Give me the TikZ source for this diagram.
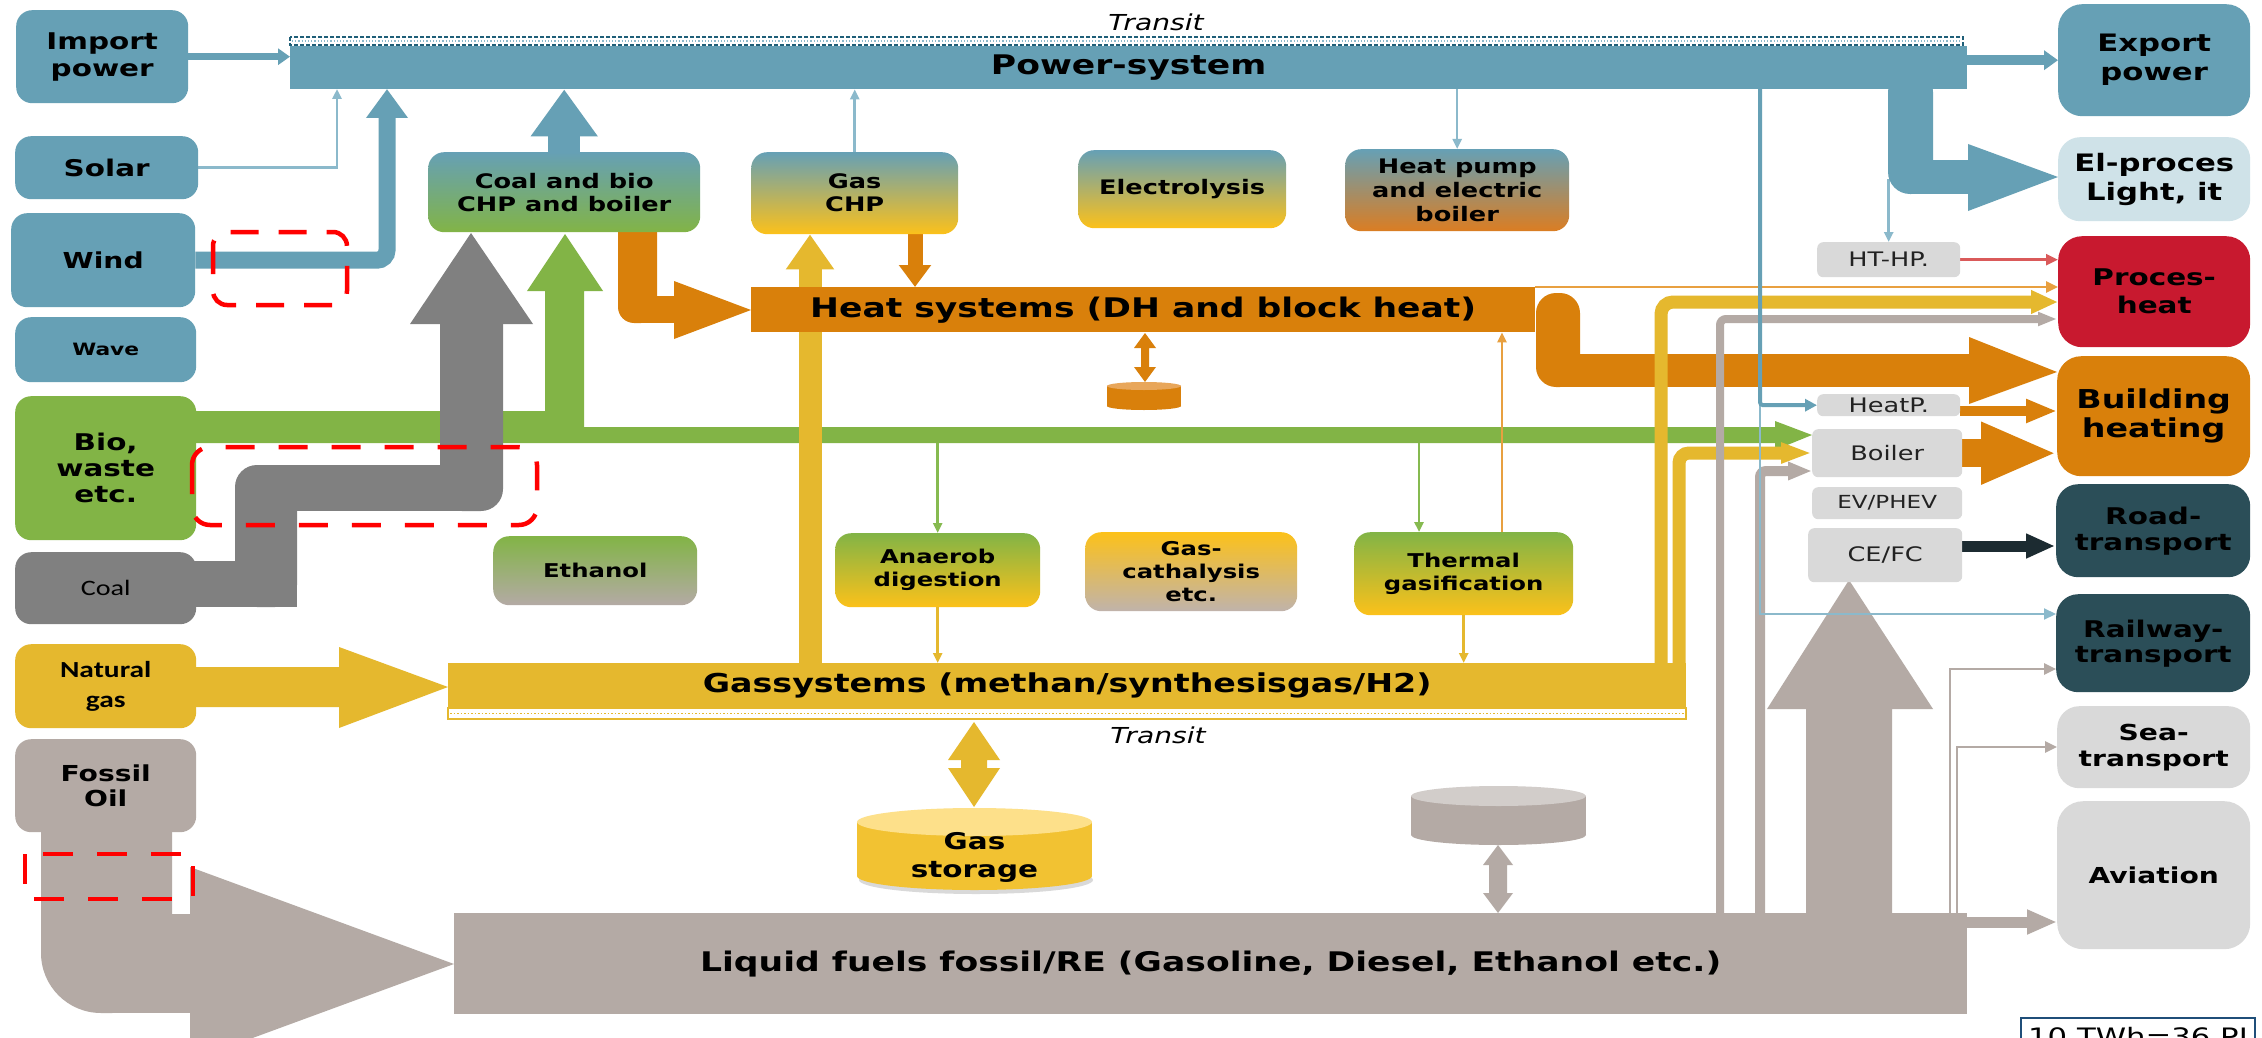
\documentclass[tikz,border=0pt]{standalone}
\usepackage{fontspec}
\setmainfont{DejaVu Sans}[FakeStretch=1.28]
\newfontfamily\carl{Carlito}[FakeStretch=1.28]
\usetikzlibrary{arrows.meta}
\pgfdeclarelayer{back}
\pgfdeclarelayer{bg}
\pgfdeclarelayer{fg}
\pgfsetlayers{back,bg,main,fg}
\newcommand\fz[2]{\fontsize{#1}{#2}\selectfont}
\definecolor{pw}{HTML}{66A0B5}
\definecolor{pwl}{HTML}{CFE2E8}
\definecolor{gr}{HTML}{82B446}
\definecolor{cg}{HTML}{808080}
\definecolor{ye}{HTML}{E5B82E}
\definecolor{yb}{HTML}{FCC11A}
\definecolor{oi}{HTML}{B4AAA5}
\definecolor{oil2}{HTML}{D2CDCA}
\definecolor{or}{HTML}{D9800B}
\definecolor{orl}{HTML}{E8A65A}
\definecolor{hpo}{HTML}{DB7D22}
\definecolor{gcb}{HTML}{C0B3AB}
\definecolor{rd}{HTML}{C8192F}
\definecolor{rdl}{HTML}{DA5A5A}
\definecolor{dt}{HTML}{2B4E58}
\definecolor{dk}{HTML}{1C2B31}
\definecolor{lg}{HTML}{D9D9D9}
\definecolor{gs}{HTML}{F2C232}
\definecolor{gsl}{HTML}{FDE08A}
\definecolor{tb}{HTML}{8BB9CB}
\definecolor{tor}{HTML}{E8A040}
\definecolor{tg}{HTML}{86BA50}
\definecolor{dkb}{HTML}{1F5F78}
\definecolor{sbx}{HTML}{1F4E79}
\definecolor{txg}{HTML}{222222}
\definecolor{rr}{HTML}{FF0000}
\begin{document}
\begin{tikzpicture}[x=1pt,y=-1pt,
  box/.style={anchor=north west, inner sep=0pt, align=center, rounded corners=16pt},
  bar/.style={anchor=north west, inner sep=0pt, font=\bfseries\fz{27}{32}},
  sbox/.style={anchor=north west, inner sep=0pt, align=center, rounded corners=6pt, fill=lg, text=txg, font=\fz{20}{24}},
  tarr/.style={line width=2.5pt, -{Triangle[length=10pt,width=9pt]}},
  redbox/.style={rr, line width=4.5pt}
]
\useasboundingbox (0,0) rectangle (2262,1038);
\begin{pgfonlayer}{back}
\fill[white] (0,0) rectangle (2262,1038);
\end{pgfonlayer}

% ---------- left boxes
\node[box, fill=pw, minimum width=172pt, minimum height=93pt, font=\bfseries\fz{23}{27}] (imp) at (16,10) {Import\\power};
\node[box, fill=pw, minimum width=183pt, minimum height=63pt, font=\bfseries\fz{23}{27}] (sol) at (15,136) {Solar};
\node[box, fill=pw, minimum width=184pt, minimum height=94pt, font=\bfseries\fz{22}{26}] (wind) at (11,213) {Wind};
\node[box, fill=pw, minimum width=181pt, minimum height=65pt, font=\bfseries\fz{17}{20}] (wave) at (15,317) {Wave};
\node[box, fill=gr, minimum width=181pt, minimum height=144pt, font=\bfseries\fz{23}{26}] (bio) at (15,396) {Bio,\\waste\\etc.};
\node[box, fill=cg, minimum width=181pt, minimum height=72pt, font=\carl\fz{22}{26}] (coal) at (15,552) {Coal};
\node[box, fill=ye, minimum width=181pt, minimum height=84pt, font=\carl\bfseries\fz{23}{30}] (ng) at (15,644) {Natural\\gas};
\node[box, fill=oi, minimum width=181pt, minimum height=93pt, font=\bfseries\fz{22}{25}] (oil) at (15,739) {Fossil\\Oil};

% ---------- bars
\node[bar, fill=pw, minimum width=1677pt, minimum height=43pt] (power) at (290,46) {Power-system};
\node[bar, fill=or, minimum width=784pt, minimum height=45pt] (heat) at (751,287) {Heat systems (DH and block heat)};
\node[bar, fill=ye, minimum width=1238pt, minimum height=45pt, font=\bfseries\fz{26}{30}] (gas) at (448,663) {Gassystems (methan/synthesisgas/H2)};
\node[bar, fill=oi, minimum width=1513pt, minimum height=101pt] (liq) at (454,913) {Liquid fuels fossil/RE (Gasoline, Diesel, Ethanol etc.)};

% ---------- middle boxes
\node[box, top color=pw, bottom color=gr, minimum width=272pt, minimum height=80pt, font=\bfseries\fz{20}{23}] (chp) at (428,152) {Coal and bio\\CHP and boiler};
\node[box, top color=pw, bottom color=yb, minimum width=207pt, minimum height=82pt, font=\bfseries\fz{20}{23}] (gchp) at (751,152) {Gas\\CHP};
\node[box, top color=pw, bottom color=yb, minimum width=208pt, minimum height=78pt, font=\bfseries\fz{20}{23}] (elec) at (1078,150) {Electrolysis};
\node[box, top color=pw, bottom color=hpo, minimum width=224pt, minimum height=82pt, font=\bfseries\fz{20}{24}] (hp) at (1345,149) {Heat pump\\and electric\\boiler};
\node[box, top color=gr, bottom color=yb, minimum width=205pt, minimum height=74pt, font=\bfseries\fz{19}{23}] (anae) at (835,533) {Anaerob\\digestion};
\node[box, top color=yb, bottom color=gcb, minimum width=212pt, minimum height=79pt, font=\bfseries\fz{19}{23}] (gcat) at (1085,532) {Gas-\\cathalysis\\etc.};
\node[box, top color=gr, bottom color=yb, minimum width=219pt, minimum height=83pt, font=\bfseries\fz{19}{23}] (therm) at (1354,532) {Thermal\\gasification};
\node[box, top color=gr, bottom color=oi, minimum width=204pt, minimum height=69pt, font=\bfseries\fz{19}{23}] (eth) at (493,536) {Ethanol};

% ---------- right boxes
\node[box, rounded corners=24pt, fill=pw, minimum width=192pt, minimum height=112pt, font=\bfseries\fz{24}{29}] (expo) at (2058,4) {Export\\power};
\node[box, rounded corners=22pt, fill=pwl, minimum width=192pt, minimum height=84pt, font=\bfseries\fz{24}{29}] (elp) at (2058,137) {El-proces\\Light, it};
\node[box, rounded corners=24pt, fill=rd, minimum width=192pt, minimum height=111pt, font=\bfseries\fz{23}{28}] (proc) at (2058,236) {Proces-\\heat};
\node[box, rounded corners=24pt, fill=or, minimum width=193pt, minimum height=120pt, font=\bfseries\fz{26}{29}] (bld) at (2057,356) {Building\\heating};
\node[box, rounded corners=22pt, fill=dt, minimum width=194pt, minimum height=93pt, font=\bfseries\fz{23}{26}] (road) at (2056,484) {Road-\\transport};
\node[box, rounded corners=22pt, fill=dt, minimum width=194pt, minimum height=98pt, font=\bfseries\fz{23}{25}] (rail) at (2056,594) {Railway-\\transport};
\node[box, rounded corners=22pt, fill=lg, minimum width=193pt, minimum height=82pt, font=\bfseries\fz{22}{26}] (sea) at (2057,706) {Sea-\\transport};
\node[box, rounded corners=26pt, fill=lg, minimum width=193pt, minimum height=148pt, font=\bfseries\fz{22}{26}] (avi) at (2057,801) {Aviation};

% ---------- small grey boxes
\node[sbox, minimum width=143pt, minimum height=35pt] (htp) at (1817,242) {HT-HP.};
\node[sbox, minimum width=143pt, minimum height=22pt] (heatp) at (1817,394) {HeatP.};
\node[sbox, minimum width=150pt, minimum height=48pt] (boiler) at (1812,429) {Boiler};
\node[sbox, minimum width=150pt, minimum height=32pt, font=\fz{18}{22}] (ev) at (1812,487) {EV/PHEV};
\node[sbox, minimum width=154pt, minimum height=54pt] (cefc) at (1808,528) {CE/FC};

% ---------- helper coordinates
\coordinate (sp) at (337,89);
\coordinate (wp) at (387,89);
\coordinate (gd) at (915,0);
\coordinate (gu) at (810,0);
\coordinate (gb) at (0,443);
\coordinate (tgx) at (1419,0);
\coordinate (tox) at (1502,0);
\coordinate (hpo1) at (1960,411);
\coordinate (hpo2) at (2057,411);
\coordinate (ce1) at (1962,546);
\coordinate (ce2) at (2055,546);
\coordinate (av1) at (1967,922);
\coordinate (av2) at (2057,922);
\coordinate (bl1) at (1760,89);
\coordinate (bl2) at (1760,405);
\coordinate (bl3) at (2056,614);
\coordinate (y1) at (1661,670);
\coordinate (y1e) at (2058,302);
\coordinate (y2) at (1679,670);
\coordinate (y2e) at (1812,453);
\coordinate (g1) at (1720,920);
\coordinate (g1e) at (2057,319);
\coordinate (g2) at (1760,920);
\coordinate (g2e) at (1812,471);
\coordinate (g3) at (1950,913);
\coordinate (g3e) at (2056,669);
\coordinate (g4) at (1957,913);
\coordinate (g4e) at (2057,747);

\begin{pgfonlayer}{bg}
% green flow
\fill[gr] (190,411) -- (545,411) -- (545,291) -- (527,291) -- (565,234) -- (603,291) -- (584,291) -- (584,427) -- (1775,427) -- (1775,421) -- (1812,435) -- (1775,450) -- (1775,443) -- (190,443) -- cycle;
% orange flows
\fill[or, rounded corners=16pt] (618,215) rectangle (657,323);
\fill[or] (640,296) rectangle (675,323);
\fill[or] (674,281) -- (751,310) -- (674,339) -- cycle;
\fill[or, rounded corners=20pt] (1536,293) rectangle (1580,387);
\fill[or] (1560,354) rectangle (1970,387);
\fill[or] (1969,337) -- (2057,372) -- (1969,404) -- cycle;
\draw[or, line width=15pt, -{Triangle[length=22pt,width=31pt]}] (gchp.south -| gd) -- (heat.north -| gd);
\draw[or, line width=10pt, -{Triangle[length=31pt,width=22pt]}] (hpo1) -- (hpo2);
\draw[or, line width=28pt, -{Triangle[length=76pt,width=57pt]}] (boiler.east) -- (boiler.east -| bld.west);
\draw[tor, line width=2.5pt, -{Triangle[length=12pt,width=11pt]}] (heat.north east) -- (heat.north east -| proc.west);
% coal pipe
\fill[cg] (190,561) rectangle (297,607);
\fill[cg, rounded corners=22pt] (235,465) rectangle (297,607);
\fill[cg] (262,465) rectangle (480,511);
\fill[cg, rounded corners=22pt] (440,300) rectangle (503,511);
\fill[cg] (410,324) -- (471,233) -- (533,324) -- cycle;
% natural gas
\fill[ye] (190,667) -- (339,667) -- (339,647) -- (448,687) -- (339,728) -- (339,707) -- (190,707) -- cycle;
% fossil oil
\fill[oi, rounded corners=60pt] (41,745) rectangle (172,1013);
\fill[oi] (100,914) rectangle (191,1013);
\fill[oi] (190,867) -- (454,964) -- (190,1061) -- cycle;
% yellow flows
\draw[ye, line width=23pt, -{Triangle[length=35pt,width=46pt]}] (gas.north -| gu) -- (gchp.south -| gu);
\draw[ye, line width=13pt, rounded corners=12pt, -{Triangle[length=27pt,width=22pt]}] (y1) |- (y1e);
\draw[ye, line width=13pt, rounded corners=10pt, -{Triangle[length=31pt,width=19pt]}] (y2) |- (y2e);
% grey flows
\draw[oi, line width=8pt, rounded corners=6pt, -{Triangle[length=19pt,width=13pt]}] (g1) |- (g1e);
\draw[oi, line width=10pt, rounded corners=6pt, -{Triangle[length=24pt,width=17pt]}] (g2) |- (g2e);
\fill[oi] (1806,920) -- (1806,709) -- (1767,709) -- (1849,580) -- (1933,709) -- (1892,709) -- (1892,920) -- cycle;
\draw[oi, line width=2.5pt, -{Triangle[length=12pt,width=11pt]}] (g3) |- (g3e);
\draw[oi, line width=2.5pt, -{Triangle[length=12pt,width=11pt]}] (g4) |- (g4e);
\draw[oi, line width=11pt, -{Triangle[length=30pt,width=23pt]}] (av1) -- (av2);
% dark road arrow
\draw[dk, line width=11pt, -{Triangle[length=29pt,width=23pt]}] (ce1) -- (ce2);
% blue flows
\draw[pw, line width=7pt, -{Triangle[length=12pt,width=16pt]}] (imp.east) -- (imp.east -| power.west);
\draw[tb, tarr] (sol.east) -| (sp);
\draw[pw, line width=17pt, rounded corners=10pt, -{Triangle[length=29pt,width=40pt]}] (wind.east) -| (wp);
\draw[pw, line width=32pt, -{Triangle[length=47pt,width=64pt]}] (chp.north) -- (chp.north |- power.south);
\draw[tb, tarr] (gchp.north) -- (gchp.north |- power.south);
\draw[tb, tarr] (hp.north |- power.south) -- (hp.north);
\draw[pw, line width=10pt, -{Triangle[length=14pt,width=19pt]}] (expo.west -| power.east) -- (expo.west);
\draw[tb, tarr] (htp.north |- elp.west) -- (htp.north);
\fill[pw, rounded corners=22pt] (1888,70) rectangle (1933,194);
\fill[pw] (1910,160) rectangle (1969,194);
\fill[pw] (1968,144) -- (2058,177) -- (1968,211) -- cycle;
\draw[rdl, line width=2.5pt, -{Triangle[length=12pt,width=11pt]}] (htp.east) -- (htp.east -| proc.west);
\draw[tb, line width=2pt, -{Triangle[length=12pt,width=11pt]}] (bl2) |- (bl3);
\draw[pw, line width=4pt, rounded corners=3pt, -{Triangle[length=12pt,width=12pt]}] (bl1) |- (heatp.west);
\end{pgfonlayer}

% ---------- transit strips
\draw[dkb, line width=1.5pt, dash pattern=on 4pt off 2pt, fill=white] (290,37) rectangle (1963,45);
\draw[tb, line width=1.2pt, dotted] (292,41) -- (1961,41);
\draw[ye, line width=1.5pt, fill=white] (448,708) rectangle (1686,719);
\draw[ye, line width=1.5pt, dotted] (450,713.5) -- (1684,713.5);
\node[font=\itshape\fz{22}{26}] (tr1) at (1156,22) {Transit};
\node[font=\itshape\fz{22}{26}] (tr2) at (1158,735) {Transit};

% ---------- heat storage
\fill[or] (1145,333) -- (1156,348) -- (1149,348) -- (1149,367) -- (1156,367) -- (1145,382) -- (1134,367) -- (1141,367) -- (1141,348) -- (1134,348) -- cycle;
\fill[or] (1107,386) rectangle (1181,406);
\fill[or] (1144,406) ellipse [x radius=37, y radius=4];
\fill[orl] (1144,386) ellipse [x radius=37, y radius=4];

% ---------- gas storage
\fill[ye] (974,722) -- (1000,760) -- (987,760) -- (987,768) -- (1000,768) -- (974,807) -- (948,768) -- (961,768) -- (961,760) -- (948,760) -- cycle;
\fill[black!15] (976,880) ellipse [x radius=117, y radius=14];
\fill[gs] (857,822) rectangle (1092,876);
\fill[gs] (974.5,876) ellipse [x radius=117.5, y radius=14];
\fill[gsl] (974.5,822) ellipse [x radius=117.5, y radius=14];
\node[align=center, font=\bfseries\fz{23}{28}] (gst) at (974.5,857) {Gas\\storage};

% ---------- liquid storage
\fill[oi] (1498,845) -- (1513,865) -- (1507,865) -- (1507,893) -- (1513,893) -- (1498,913) -- (1483,893) -- (1489,893) -- (1489,865) -- (1483,865) -- cycle;
\fill[oi] (1411,796) rectangle (1586,835);
\fill[oi] (1498.5,835) ellipse [x radius=87.5, y radius=10];
\fill[oil2] (1498.5,796) ellipse [x radius=87.5, y radius=10];

% ---------- thin process arrows
\draw[tg, tarr] (anae.north |- gb) -- (anae.north);
\draw[ye, tarr] (anae.south) -- (anae.south |- gas.north);
\draw[tg, tarr] (tgx |- gb) -- (tgx |- therm.north);
\draw[ye, tarr] (therm.south) -- (therm.south |- gas.north);
\draw[tor, tarr] (tox |- therm.north) -- (tox |- heat.south);

% ---------- scale box
\draw[sbx, line width=2pt] (2021,1018) rectangle (2255,1080);
\node[anchor=north, inner sep=0pt, font=\fz{24}{28}] (scl) at (2138,1027) {10 TWh=36 PJ};

% ---------- red dashed marks
\begin{pgfonlayer}{fg}
\draw[redbox, dash pattern=on 28pt off 20pt, rounded corners=14pt] (213,232) rectangle (347,305);
\draw[redbox, dash pattern=on 29pt off 24pt, rounded corners=18pt] (192,447) rectangle (537,525);
\draw[redbox, dash pattern=on 30pt off 24pt] (25,854) rectangle (193,899);
\end{pgfonlayer}
\end{tikzpicture}
\end{document}
